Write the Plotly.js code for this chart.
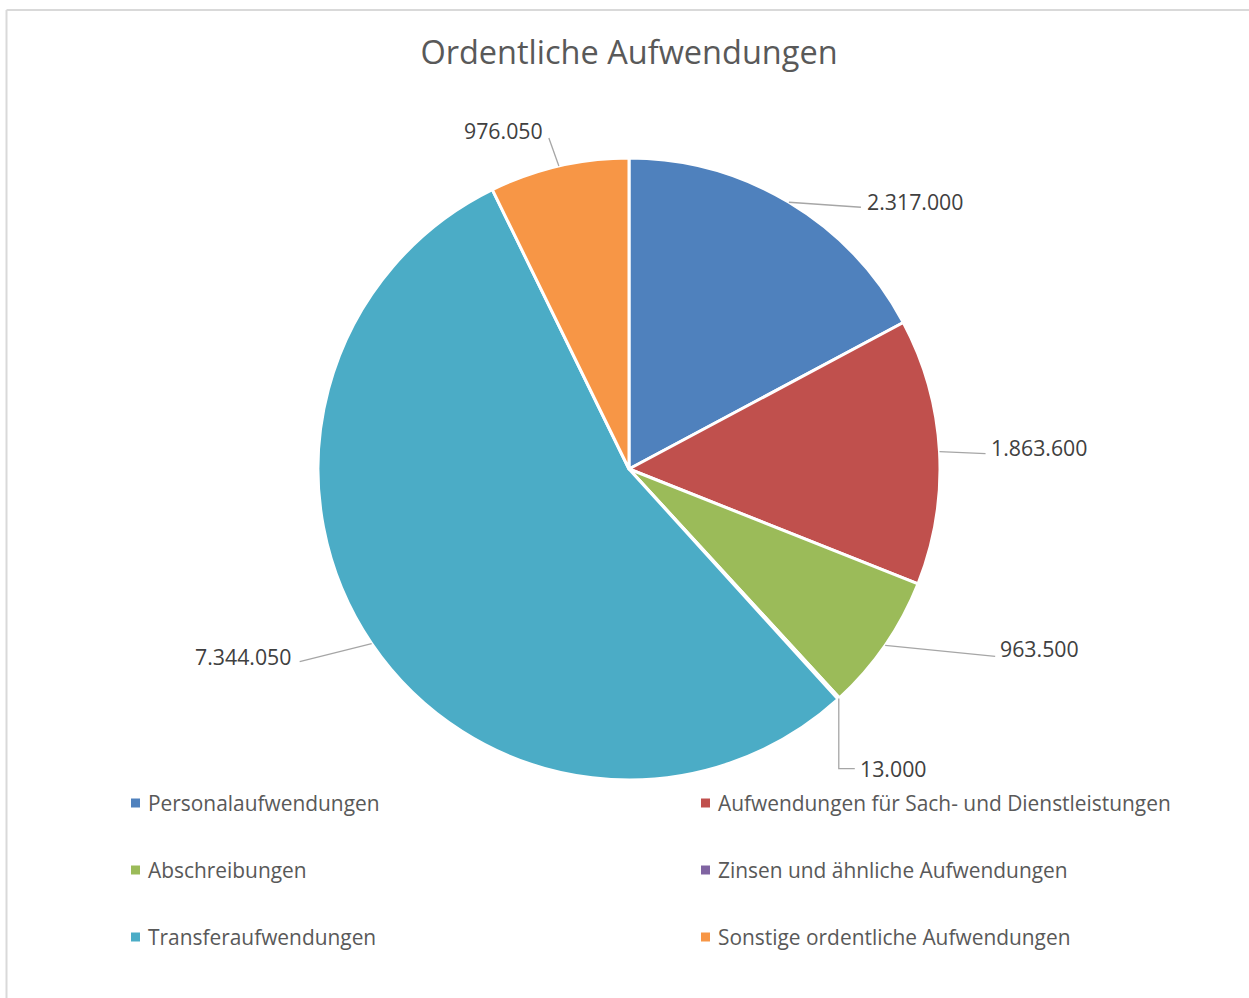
<!DOCTYPE html>
<html>
<head>
<meta charset="utf-8">
<script src="https://cdn.plot.ly/plotly-3.0.1.min.js"></script>
<style>
  html, body { margin: 0; padding: 0; background: #ffffff; }
  #chart { width: 1249px; height: 998px; }
</style>
</head>
<body>
<div id="chart"></div>
<script>
// ---- data ----
const labels = [
  "Personalaufwendungen",
  "Aufwendungen für Sach- und Dienstleistungen",
  "Abschreibungen",
  "Zinsen und ähnliche Aufwendungen",
  "Transferaufwendungen",
  "Sonstige ordentliche Aufwendungen"
];
const values = [2317000, 1863600, 963500, 13000, 7344050, 976050];
const colors = ["#4F81BD", "#C0504D", "#9BBB59", "#8064A2", "#4BACC6", "#F79646"];
const chartTitle = "Ordentliche Aufwendungen";

// ---- layout constants (pixels) ----
const W = 1249, H = 998;
const CX = 629, CY = 469, R = 311;
const FONT = "'Open Sans', 'Noto Sans', sans-serif";
// leader-line end offset from slice edge (ex, ey) and text offset from line end (tx, ty)
const labelPlacement = [
  { ex: 72,  ey: 5,   tx: 4,  ty: -6, side: "left" },
  { ex: 46,  ey: 2,   tx: 3,  ty: -6, side: "left" },
  { ex: 110, ey: 11,  tx: 3,  ty: -8, side: "left" },
  { ex: 16,  ey: 70,  tx: 3,  ty: 0,  side: "left", elbow: true },
  { ex: -72, ey: 18,  tx: -7, ty: -5, side: "right" },
  { ex: -10, ey: -28, tx: -4, ty: -8, side: "right" }
];
const legendCols = [131, 701];
const legendRows = [803, 870, 937];

const px = x => x / W;
const py = y => 1 - y / H;
const fmt = v => String(v).replace(/\B(?=(\d{3})+(?!\d))/g, ".");

const total = values.reduce((a, b) => a + b, 0);
let cum = 0;
const tips = values.map(v => {
  const mid = (cum + v / 2) / total * 2 * Math.PI;
  cum += v;
  return [CX + R * Math.sin(mid), CY - R * Math.cos(mid)];
});

const shapes = [
  { type: "line", xref: "paper", yref: "paper", x0: px(6.5), y0: py(10), x1: px(1249), y1: py(10),
    line: { color: "#d9d9d9", width: 2 } },
  { type: "line", xref: "paper", yref: "paper", x0: px(6.5), y0: py(10), x1: px(6.5), y1: py(998),
    line: { color: "#d9d9d9", width: 2 } }
];
const annotations = [];

values.forEach((v, i) => {
  const p = labelPlacement[i];
  const [tx0, ty0] = tips[i];
  const ex = tx0 + p.ex, ey = ty0 + p.ey;
  let path = `M ${px(tx0)} ${py(ty0)} `;
  if (p.elbow) path += `L ${px(tx0)} ${py(ey)} `;
  path += `L ${px(ex)} ${py(ey)}`;
  shapes.push({ type: "path", xref: "paper", yref: "paper", path: path,
    line: { color: "#a6a6a6", width: 1.3 } });
  annotations.push({
    xref: "paper", yref: "paper", x: px(ex + p.tx), y: py(ey + p.ty),
    xanchor: p.side, yanchor: "middle", showarrow: false,
    text: fmt(v), font: { family: FONT, size: 21.3, color: "#404040" }
  });
});

labels.forEach((lab, i) => {
  const cx = legendCols[i % 2], cy = legendRows[Math.floor(i / 2)];
  shapes.push({ type: "rect", xref: "paper", yref: "paper",
    x0: px(cx), x1: px(cx + 9), y0: py(cy - 4.5), y1: py(cy + 4.5),
    fillcolor: colors[i], line: { width: 0 } });
  annotations.push({
    xref: "paper", yref: "paper", x: px(cx + 14.5), y: py(cy),
    xanchor: "left", yanchor: "middle", showarrow: false,
    text: lab, font: { family: FONT, size: 20.9, color: "#595959" }
  });
});

const trace = {
  type: "pie",
  labels: labels,
  values: values,
  sort: false,
  direction: "clockwise",
  rotation: 0,
  textinfo: "none",
  hoverinfo: "label+value",
  showlegend: false,
  marker: { colors: colors, line: { color: "#ffffff", width: 3 } },
  domain: { x: [px(CX - R), px(CX + R)], y: [py(CY + R), py(CY - R)] }
};

const layout = {
  width: W, height: H,
  margin: { l: 0, r: 0, t: 0, b: 0 },
  paper_bgcolor: "#ffffff",
  showlegend: false,
  title: { text: chartTitle, x: px(629), xanchor: "center", y: py(53), yanchor: "middle",
    xref: "paper", yref: "paper", font: { family: FONT, size: 32.5, color: "#595959" } },
  shapes: shapes,
  annotations: annotations
};

Plotly.newPlot("chart", [trace], layout, { staticPlot: true });
</script>
</body>
</html>
